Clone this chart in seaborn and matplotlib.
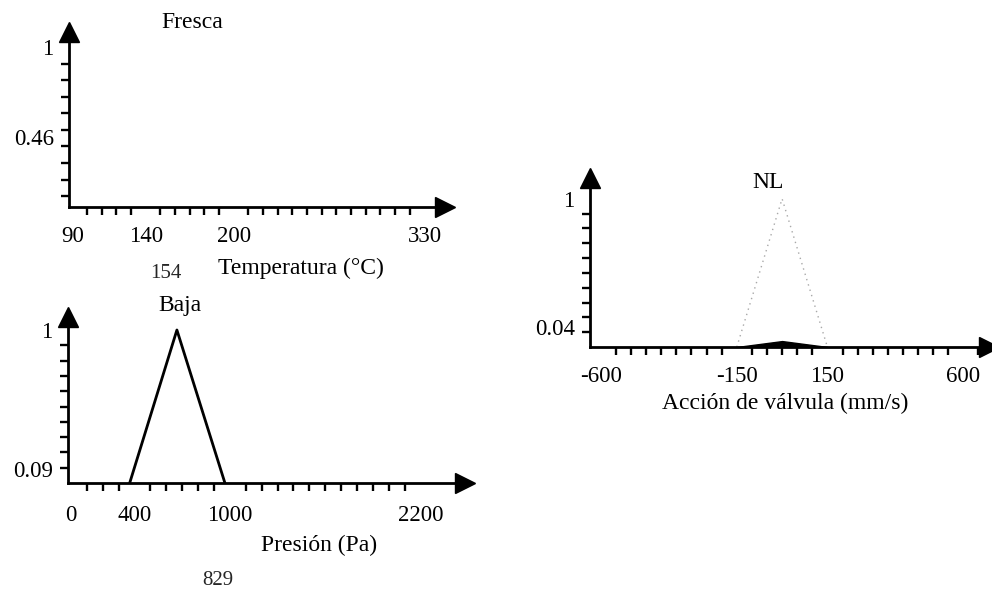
import numpy as np
import pandas as pd
import matplotlib
matplotlib.use("Agg")
import matplotlib.pyplot as plt
import seaborn as sns
from matplotlib.transforms import ScaledTranslation, blended_transform_factory

# ---------------- data ----------------
temp_ticks = [90, 140, 200, 330]
temp_input = 154
fresca_yticks = [0.46, 1]
fresca_ylabels = ["0.46", "1"]

pres_ticks = [0, 400, 1000, 2200]
pres_input = 829
baja_x = [370, 667, 969]
baja_y = [0, 1, 0]
baja_yticks = [0.09, 1]
baja_ylabels = ["0.09", "1"]

valv_ticks = [-600, -150, 150, 600]
nl_x = [-150, 0, 150]
nl_y = [0, 1, 0]
nl_activation = 0.04
nl_yticks = [0.04, 1]
nl_ylabels = ["0.04", "1"]

# ---------------- style ----------------
sns.set_theme(style="white")
plt.rcParams["font.family"] = ["Liberation Serif", "DejaVu Serif"]

W, H = 992, 591
fig = plt.figure(figsize=(W / 100, H / 100), dpi=100)
FS = 17
TFS = 16.5


def px_axes(left, right, bottom, top):
    return fig.add_axes([left / W, 1 - bottom / H, (right - left) / W, (bottom - top) / H])


def figtext(x, y, s, fs=FS, ha="center"):
    fig.text(x / W, 1 - y / H, s, ha=ha, va="center", fontsize=fs, color="black")


def style_axes(ax, xlim, ylim, xticks, xminor, yticks, ylabels, yminor, xpad):
    ax.set_xlim(*xlim)
    ax.set_ylim(*ylim)
    for s in ["top", "right"]:
        ax.spines[s].set_visible(False)
    for s in ["left", "bottom"]:
        ax.spines[s].set_color("black")
        ax.spines[s].set_linewidth(2.0)
    ax.set_xticks(xticks)
    ax.set_xticklabels([str(t) for t in xticks])
    ax.set_xticks(xminor, minor=True)
    ax.set_yticks(yticks)
    ax.set_yticklabels(ylabels)
    ax.set_yticks(yminor, minor=True)
    ax.tick_params(axis="x", which="major", length=0, pad=xpad, labelsize=TFS, colors="black")
    ax.tick_params(axis="y", which="major", length=0, pad=11, labelsize=TFS, colors="black")
    ax.tick_params(axis="both", which="minor", length=5.5, width=1.7, direction="out",
                   color="black", bottom=True, left=True)
    ax.set_facecolor("none")
    ax.grid(False)
    # arrows
    ax.plot([1], [0], marker=">", ms=15, color="black", transform=ax.transAxes, clip_on=False)
    ax.plot([0], [1], marker="^", ms=15, color="black", transform=ax.transAxes, clip_on=False)


# ---------- Panel 1: Fresca ----------
ax1 = px_axes(69, 445, 207, 32)
style_axes(ax1, (87.7, 344), (0.035, 1.09), temp_ticks, np.arange(100, 331, 10),
           fresca_yticks, fresca_ylabels, np.arange(0.1, 1.01, 0.1), 14)
tr1 = blended_transform_factory(ax1.transData, ax1.transAxes)
ax1.text(temp_input, -0.379, str(temp_input), transform=tr1, ha="center", va="center", fontsize=15)
figtext(192, 22, "Fresca")
figtext(301, 268, "Temperatura (°C)")

# ---------- Panel 2: Baja ----------
ax2 = px_axes(68, 465, 483, 317)
style_axes(ax2, (-18, 2479), (0, 1.085), pres_ticks, np.arange(100, 2201, 100),
           baja_yticks, baja_ylabels, np.arange(0.1, 1.01, 0.1), 16)
df_baja = pd.DataFrame({"x": baja_x, "y": baja_y})
sns.lineplot(data=df_baja, x="x", y="y", ax=ax2, color="black", lw=2.0, sort=False)
ax2.set_xlabel("")
ax2.set_ylabel("")
tr2 = blended_transform_factory(ax2.transData, ax2.transAxes)
ax2.text(pres_input, -0.588, str(pres_input), transform=tr2, ha="left", va="center", fontsize=15)
figtext(180, 305, "Baja")
figtext(319, 545, "Presión (Pa)")

# ---------- Panel 3: NL ----------
ax3 = px_axes(590, 989, 347, 178)
style_axes(ax3, (-636, 685), (0, 1.14), valv_ticks, np.arange(-600, 651, 50),
           nl_yticks, nl_ylabels, np.arange(0.1, 1.01, 0.1), 14)
df_nl = pd.DataFrame({"x": nl_x, "y": nl_y})
sns.lineplot(data=df_nl, x="x", y="y", ax=ax3, color="#a8a8a8", lw=1.0,
             linestyle=(0, (1, 3)), sort=False)
act_y = [v * nl_activation for v in nl_y]
ax3.fill_between(nl_x, 0, act_y, color="black", lw=1.0)
ax3.set_xlabel("")
ax3.set_ylabel("")
# lift the lower y label a little, as in the reference
lbl = ax3.get_yticklabels()[0]
lbl.set_transform(lbl.get_transform() + ScaledTranslation(0, 14 / 100, fig.dpi_scale_trans))
figtext(768, 183, "NL")
figtext(785, 403, "Acción de válvula (mm/s)")

fig.savefig("out.png", dpi=100, facecolor="white")
